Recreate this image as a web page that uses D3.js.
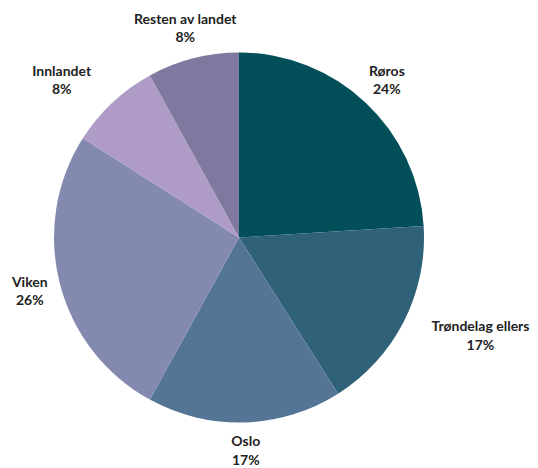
<!DOCTYPE html>
<html>
<head>
<meta charset="utf-8">
<script src="https://cdn.jsdelivr.net/npm/d3@7"></script>
<style>
  html, body { margin: 0; padding: 0; background: #ffffff; }
  text { font-family: Lato, "Open Sans", sans-serif; font-weight: 700; fill: #222222; }
</style>
</head>
<body>
<svg id="chart" width="538" height="468"></svg>
<script>
const categories = ["Røros", "Trøndelag ellers", "Oslo", "Viken", "Innlandet", "Resten av landet"];
const values = [24, 17, 17, 26, 8, 8];
const colors = ["#024e59", "#2f6178", "#557596", "#8489b0", "#ae9cc6", "#80799f"];

const width = 538, height = 468;
const cx = 239, cy = 237.5, radius = 185, labelRadius = 216;

const svg = d3.select("#chart");
const g = svg.append("g").attr("transform", `translate(${cx},${cy})`);

const data = categories.map((c, i) => ({ name: c, value: values[i], color: colors[i] }));
const pie = d3.pie().value(d => d.value).sort(null);
const arcs = pie(data);
const arc = d3.arc().innerRadius(0).outerRadius(radius);

g.selectAll("path.slice")
  .data(arcs)
  .join("path")
  .attr("class", "slice")
  .attr("d", arc)
  .attr("fill", d => d.data.color);

const total = d3.sum(values);
const fmt = v => Math.round(v / total * 100) + "%";
const lineH = 18.5;

const labels = g.selectAll("g.label")
  .data(arcs)
  .join("g")
  .attr("class", "label");

labels.each(function(d) {
  const sel = d3.select(this);
  const t1 = sel.append("text").attr("text-anchor", "middle").attr("font-size", 14)
    .attr("y", -lineH / 2).attr("dy", "0.35em").text(d.data.name);
  const t2 = sel.append("text").attr("text-anchor", "middle").attr("font-size", 14)
    .attr("y", lineH / 2).attr("dy", "0.35em").text(fmt(d.value));
  const w = Math.max(t1.node().getComputedTextLength(), t2.node().getComputedTextLength());
  const h = 38;
  const a = (d.startAngle + d.endAngle) / 2;
  const s = Math.sin(a), c = Math.cos(a);
  let x = labelRadius * s;
  let y = -labelRadius * c;
  // nearest box corner to the pie centre; if it overlaps the pie, push outward by half width
  const nx = x - Math.sign(s) * w / 2, ny = y + Math.sign(c) * h / 2;
  if (Math.hypot(nx, ny) < radius) x += Math.sign(s) * w / 2;
  // keep text inside the canvas
  const maxY = height - cy - lineH / 2 - 8;
  if (y > maxY) y = maxY;
  sel.attr("transform", `translate(${x},${y})`);
});
</script>
</body>
</html>
